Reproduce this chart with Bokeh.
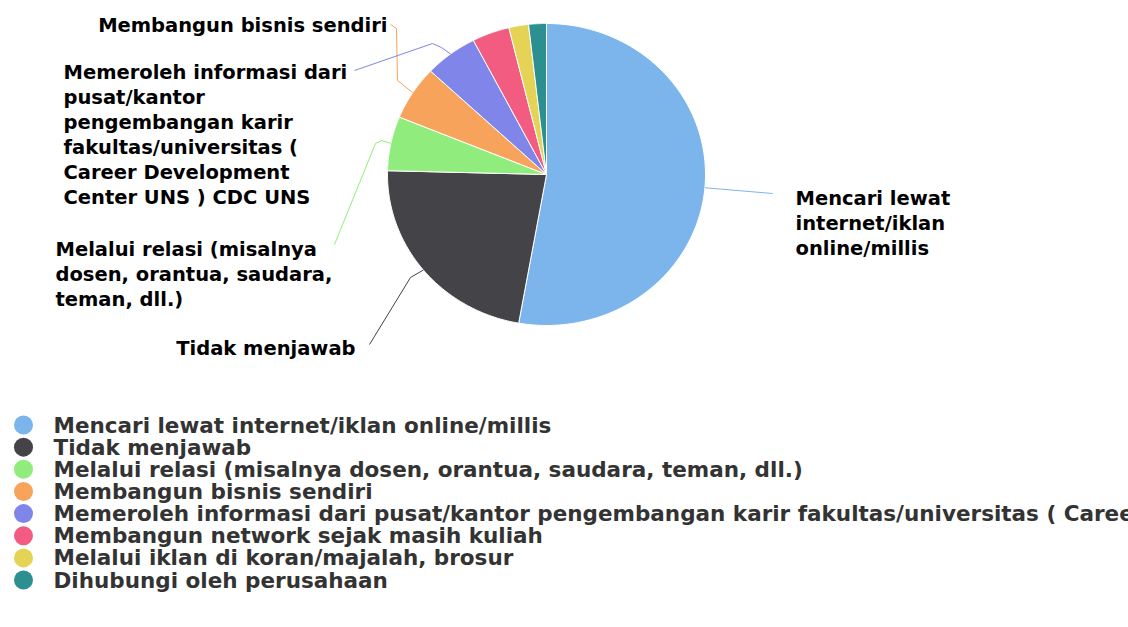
import numpy as np
from bokeh.plotting import figure
from bokeh.models import Range1d
from bokeh.core.properties import value
from bokeh.embed import file_html
from bokeh.resources import INLINE

# ---- data ----
categories = [
    "Mencari lewat internet/iklan online/millis",
    "Tidak menjawab",
    "Melalui relasi (misalnya dosen, orantua, saudara, teman, dll.)",
    "Membangun bisnis sendiri",
    "Memeroleh informasi dari pusat/kantor pengembangan karir fakultas/universitas ( Career Development Center UNS ) CDC UNS",
    "Membangun network sejak masih kuliah",
    "Melalui iklan di koran/majalah, brosur",
    "Dihubungi oleh perusahaan",
]
percentages = [52.8, 22.6, 5.8, 5.8, 5.4, 3.8, 2.0, 1.8]
colors = ["#7cb5ec", "#434348", "#90ed7d", "#f7a35c", "#8085e9", "#f15c80", "#e4d354", "#2b908f"]

# wrapped data-label lines (only the labelled slices)
label_lines = {
    0: ["Mencari lewat", "internet/iklan", "online/millis"],
    1: ["Tidak menjawab"],
    2: ["Melalui relasi (misalnya", "dosen, orantua, saudara,", "teman, dll.)"],
    3: ["Membangun bisnis sendiri"],
    4: ["Memeroleh informasi dari", "pusat/kantor", "pengembangan karir", "fakultas/universitas (",
        "Career Development", "Center UNS ) CDC UNS"],
}

# ---- layout (page pixel coordinates) ----
W, H = 1128, 627
CX, CY, RX, RY = 546, 174, 159, 151
LINE_H = 25
# label anchor: (x, first-line y, align)
label_pos = {
    0: (795, 198, "left"),
    1: (355, 348, "right"),
    2: (55, 248.5, "left"),
    3: (387, 25, "right"),
    4: (63, 71.5, "left"),
}
# connector bend points from label side towards the slice
connector_pts = {
    0: [(772, 193)],
    1: [(369, 344), (410, 277)],
    2: [(334, 244), (375, 143), (381, 140)],
    3: [(390, 24), (396, 28), (397, 80)],
    4: [(354, 70), (432, 43), (441, 47)],
}

p = figure(width=W, height=H, output_backend="svg", toolbar_location=None,
           x_range=Range1d(0, W), y_range=Range1d(H, 0),
           min_border=0, border_fill_color="white", background_fill_color="white")
p.axis.visible = False
p.grid.visible = False
p.outline_line_color = None

fr = np.array(percentages) / sum(percentages)
cum = np.concatenate([[0], np.cumsum(fr)])

xs, ys = [], []
for i in range(len(fr)):
    t = np.linspace(cum[i], cum[i + 1], 120) * 2 * np.pi
    xs.append(np.concatenate([[CX], CX + RX * np.sin(t)]).tolist())
    ys.append(np.concatenate([[CY], CY - RY * np.cos(t)]).tolist())
p.patches(xs=xs, ys=ys, fill_color=colors, line_color="white", line_width=1)

font = value("DejaVu Sans")

# connectors + labels
for i, lines in label_lines.items():
    mid = (cum[i] + cum[i + 1]) / 2 * 2 * np.pi
    ex, ey = CX + RX * np.sin(mid), CY - RY * np.cos(mid)
    pts = connector_pts[i] + [(ex, ey)]
    p.line([q[0] for q in pts], [q[1] for q in pts], line_color=colors[i], line_width=1)
    x0, y0, al = label_pos[i]
    p.text(x=[x0] * len(lines), y=[y0 + LINE_H * k for k in range(len(lines))], text=lines,
           text_font=font, text_font_style="bold", text_font_size="19.5px",
           text_color="#000000", text_align=al, text_baseline="middle")

# legend
LEG_X, LEG_Y, LEG_DY = 23, 424.5, 22.15
ly = [LEG_Y + LEG_DY * k for k in range(len(categories))]
p.scatter(x=[LEG_X] * len(categories), y=ly, size=19, fill_color=colors, line_color=None)
p.text(x=[LEG_X + 30] * len(categories), y=ly, text=categories,
       text_font=font, text_font_style="bold", text_font_size="21.5px",
       text_color="#333333", text_align="left", text_baseline="middle")

open("out.html", "w").write(file_html(p, INLINE))
